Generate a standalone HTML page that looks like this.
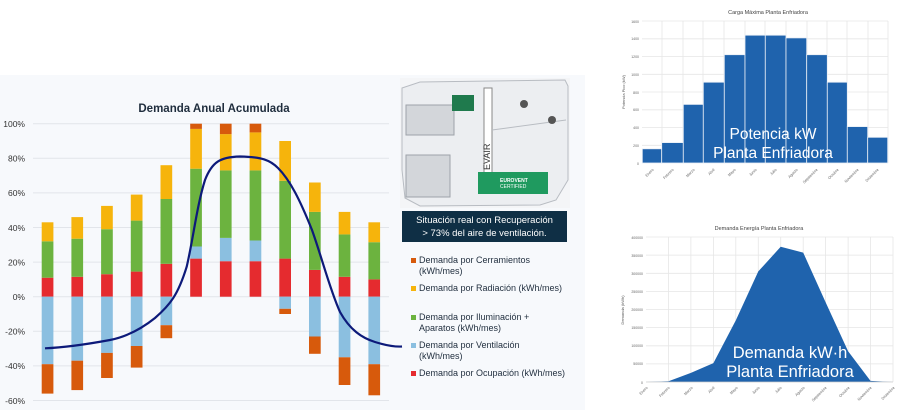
<!DOCTYPE html>
<html><head><meta charset="utf-8"><style>
html,body{margin:0;padding:0;width:900px;height:410px;overflow:hidden;background:#fff;font-family:"Liberation Sans",sans-serif}
</style></head><body>
<svg width="900" height="410" viewBox="0 0 900 410" xmlns="http://www.w3.org/2000/svg" font-family="Liberation Sans, sans-serif">
<rect x="0" y="0" width="900" height="410" fill="#fff"/>
<rect x="0" y="75" width="585" height="335" fill="#f7f9fc"/>
<!-- left chart -->
<text x="214" y="112" font-size="11.5" font-weight="bold" fill="#1f2d3d" text-anchor="middle">Demanda Anual Acumulada</text>
<g stroke="#e2e5ea" stroke-width="1">
<line x1="33" x2="389" y1="123.7" y2="123.7"/><line x1="33" x2="389" y1="158.3" y2="158.3"/><line x1="33" x2="389" y1="192.9" y2="192.9"/><line x1="33" x2="389" y1="227.5" y2="227.5"/><line x1="33" x2="389" y1="262.1" y2="262.1"/><line x1="33" x2="389" y1="296.7" y2="296.7"/><line x1="33" x2="389" y1="331.3" y2="331.3"/><line x1="33" x2="389" y1="365.9" y2="365.9"/><line x1="33" x2="389" y1="400.5" y2="400.5"/>
</g>
<g font-size="8.5" fill="#333" text-anchor="end">
<text x="25" y="127">100%</text><text x="25" y="161.5">80%</text><text x="25" y="196">60%</text><text x="25" y="231">40%</text><text x="25" y="265.5">20%</text><text x="25" y="300">0%</text><text x="25" y="334.5">-20%</text><text x="25" y="369">-40%</text><text x="25" y="404">-60%</text>
</g>
<g>
<rect x="41.7" y="277.7" width="11.7" height="19" fill="#e52b2f"/><rect x="41.7" y="241.3" width="11.7" height="36.4" fill="#6cb33f"/><rect x="41.7" y="222.3" width="11.7" height="19" fill="#f6b40c"/><rect x="41.7" y="296.7" width="11.7" height="67.5" fill="#8bbfe0"/><rect x="41.7" y="364.2" width="11.7" height="29.4" fill="#d75a0c"/>
<rect x="71.4" y="276.8" width="11.7" height="19.9" fill="#e52b2f"/><rect x="71.4" y="238.7" width="11.7" height="38.1" fill="#6cb33f"/><rect x="71.4" y="217.1" width="11.7" height="21.6" fill="#f6b40c"/><rect x="71.4" y="296.7" width="11.7" height="64" fill="#8bbfe0"/><rect x="71.4" y="360.7" width="11.7" height="29.4" fill="#d75a0c"/>
<rect x="101.1" y="274.2" width="11.7" height="22.5" fill="#e52b2f"/><rect x="101.1" y="229.2" width="11.7" height="45" fill="#6cb33f"/><rect x="101.1" y="205.9" width="11.7" height="23.3" fill="#f6b40c"/><rect x="101.1" y="296.7" width="11.7" height="56.2" fill="#8bbfe0"/><rect x="101.1" y="352.9" width="11.7" height="25.1" fill="#d75a0c"/>
<rect x="130.8" y="271.6" width="11.7" height="25.1" fill="#e52b2f"/><rect x="130.8" y="220.6" width="11.7" height="51" fill="#6cb33f"/><rect x="130.8" y="194.6" width="11.7" height="26" fill="#f6b40c"/><rect x="130.8" y="296.7" width="11.7" height="49.3" fill="#8bbfe0"/><rect x="130.8" y="346" width="11.7" height="21.6" fill="#d75a0c"/>
<rect x="160.5" y="263.8" width="11.7" height="32.9" fill="#e52b2f"/><rect x="160.5" y="199" width="11.7" height="64.8" fill="#6cb33f"/><rect x="160.5" y="165.2" width="11.7" height="33.8" fill="#f6b40c"/><rect x="160.5" y="296.7" width="11.7" height="28.5" fill="#8bbfe0"/><rect x="160.5" y="325.2" width="11.7" height="13" fill="#d75a0c"/>
<rect x="190.2" y="258.6" width="11.7" height="38.1" fill="#e52b2f"/><rect x="190.2" y="246.5" width="11.7" height="12.1" fill="#8bbfe0"/><rect x="190.2" y="168.7" width="11.7" height="77.8" fill="#6cb33f"/><rect x="190.2" y="128.9" width="11.7" height="39.8" fill="#f6b40c"/><rect x="190.2" y="123.7" width="11.7" height="5.2" fill="#d75a0c"/>
<rect x="219.9" y="261.2" width="11.7" height="35.5" fill="#e52b2f"/><rect x="219.9" y="237.9" width="11.7" height="23.3" fill="#8bbfe0"/><rect x="219.9" y="170.4" width="11.7" height="67.5" fill="#6cb33f"/><rect x="219.9" y="134.1" width="11.7" height="36.3" fill="#f6b40c"/><rect x="219.9" y="123.7" width="11.7" height="10.4" fill="#d75a0c"/>
<rect x="249.6" y="261.2" width="11.7" height="35.5" fill="#e52b2f"/><rect x="249.6" y="240.5" width="11.7" height="20.7" fill="#8bbfe0"/><rect x="249.6" y="170.4" width="11.7" height="70.1" fill="#6cb33f"/><rect x="249.6" y="132.4" width="11.7" height="38" fill="#f6b40c"/><rect x="249.6" y="123.7" width="11.7" height="8.7" fill="#d75a0c"/>
<rect x="279.3" y="258.6" width="11.7" height="38.1" fill="#e52b2f"/><rect x="279.3" y="180.8" width="11.7" height="77.8" fill="#6cb33f"/><rect x="279.3" y="141" width="11.7" height="39.8" fill="#f6b40c"/><rect x="279.3" y="296.7" width="11.7" height="12.1" fill="#8bbfe0"/><rect x="279.3" y="308.8" width="11.7" height="5.2" fill="#d75a0c"/>
<rect x="309" y="269.9" width="11.7" height="26.8" fill="#e52b2f"/><rect x="309" y="211.9" width="11.7" height="58" fill="#6cb33f"/><rect x="309" y="182.5" width="11.7" height="29.4" fill="#f6b40c"/><rect x="309" y="296.7" width="11.7" height="39.8" fill="#8bbfe0"/><rect x="309" y="336.5" width="11.7" height="17.3" fill="#d75a0c"/>
<rect x="338.7" y="276.8" width="11.7" height="19.9" fill="#e52b2f"/><rect x="338.7" y="234.4" width="11.7" height="42.4" fill="#6cb33f"/><rect x="338.7" y="211.9" width="11.7" height="22.5" fill="#f6b40c"/><rect x="338.7" y="296.7" width="11.7" height="60.6" fill="#8bbfe0"/><rect x="338.7" y="357.3" width="11.7" height="27.7" fill="#d75a0c"/>
<rect x="368.4" y="279.4" width="11.7" height="17.3" fill="#e52b2f"/><rect x="368.4" y="242.2" width="11.7" height="37.2" fill="#6cb33f"/><rect x="368.4" y="222.3" width="11.7" height="19.9" fill="#f6b40c"/><rect x="368.4" y="296.7" width="11.7" height="67.5" fill="#8bbfe0"/><rect x="368.4" y="364.2" width="11.7" height="31.1" fill="#d75a0c"/>
</g>
<path d="M45,348.3 C65,347.5 83,345 110,340 C125,337 140,330 155,318 C170,305 178,295 186.7,266.7 C193,240 197,205 205,180 C212,162 220,157 240,156.5 C262,157 270,160 278,168 C290,180 300,200 312,230 C322,258 330,290 340,312 C350,330 362,338 375,342 C388,346 395,347 402,346.5" fill="none" stroke="#0d1a7a" stroke-width="2.2"/>

<!-- photo -->
<rect x="400" y="78" width="170" height="130" fill="#f4f5f7"/>
<polygon points="402,88 420,82 565,80 568,86 568,180 556,200 540,205 420,206 405,198 402,170" fill="#eceef1" stroke="#b8bcc2"/>
<rect x="406" y="105" width="48" height="30" fill="#d3d6da" stroke="#9ea3a9"/>
<rect x="406" y="155" width="44" height="42" fill="#d3d6da" stroke="#9ea3a9"/>
<rect x="452" y="95" width="22" height="16" fill="#1f7a4d"/>
<rect x="484" y="88" width="8" height="100" fill="#fff" stroke="#888"/>
<text x="490" y="170" font-size="9" fill="#333" transform="rotate(-90 490 170)">EVAIR</text>
<line x1="492" y1="130" x2="566" y2="120" stroke="#b8bcc2"/>
<circle cx="524" cy="104" r="4" fill="#555"/><circle cx="552" cy="120" r="4" fill="#555"/>
<rect x="478" y="172" width="70" height="22" fill="#1f9a5f"/>
<text x="500" y="182" font-size="5" fill="#fff" font-weight="bold">EUROVENT</text>
<text x="500" y="188" font-size="5" fill="#fff">CERTIFIED</text>
<!-- banner -->
<rect x="402" y="211" width="165" height="31" fill="#0f2f45"/>
<text x="484.5" y="223" font-size="9.5" fill="#fff" text-anchor="middle">Situación real con Recuperación</text>
<text x="484.5" y="236" font-size="9.5" fill="#fff" text-anchor="middle">&gt; 73% del aire de ventilación.</text>
<!-- legend -->
<g font-size="9" fill="#1f2d3d">
<rect x="411" y="258" width="5" height="5" fill="#d75a0c"/><text x="419" y="263">Demanda por Cerramientos</text><text x="419" y="274">(kWh/mes)</text>
<rect x="411" y="286" width="5" height="5" fill="#f6b40c"/><text x="419" y="291">Demanda por Radiación (kWh/mes)</text>
<rect x="411" y="315" width="5" height="5" fill="#6cb33f"/><text x="419" y="320">Demanda por Iluminación +</text><text x="419" y="331">Aparatos (kWh/mes)</text>
<rect x="411" y="343" width="5" height="5" fill="#8bbfe0"/><text x="419" y="348">Demanda por Ventilación</text><text x="419" y="359">(kWh/mes)</text>
<rect x="411" y="371" width="5" height="5" fill="#e52b2f"/><text x="419" y="376">Demanda por Ocupación (kWh/mes)</text>
</g>

<!-- top right -->
<rect x="617" y="4" width="283" height="183" fill="#fff"/>
<text x="768" y="14" font-size="5.5" fill="#444" text-anchor="middle">Carga Máxima Planta Enfriadora</text>
<g stroke="#e6e6e6" stroke-width="0.8">
<line x1="642" x2="888" y1="21" y2="21"/><line x1="642" x2="888" y1="38.8" y2="38.8"/><line x1="642" x2="888" y1="56.5" y2="56.5"/><line x1="642" x2="888" y1="74.3" y2="74.3"/><line x1="642" x2="888" y1="92" y2="92"/><line x1="642" x2="888" y1="109.8" y2="109.8"/><line x1="642" x2="888" y1="127.5" y2="127.5"/><line x1="642" x2="888" y1="145.3" y2="145.3"/>
<line x1="662" x2="662" y1="21" y2="163"/><line x1="683" x2="683" y1="21" y2="163"/><line x1="703" x2="703" y1="21" y2="163"/><line x1="724" x2="724" y1="21" y2="163"/><line x1="745" x2="745" y1="21" y2="163"/><line x1="765" x2="765" y1="21" y2="163"/><line x1="786" x2="786" y1="21" y2="163"/><line x1="807" x2="807" y1="21" y2="163"/><line x1="827" x2="827" y1="21" y2="163"/><line x1="847" x2="847" y1="21" y2="163"/><line x1="868" x2="868" y1="21" y2="163"/><line x1="888" x2="888" y1="21" y2="163"/>
</g>
<g fill="#1f63ad" stroke="#e8eef6" stroke-width="0.8">
<rect x="642.3" y="148.8" width="19.4" height="14.2"/><rect x="661.7" y="142.6" width="21.6" height="20.4"/><rect x="683.3" y="104.4" width="20" height="58.6"/><rect x="703.3" y="82.2" width="21" height="80.8"/><rect x="724.3" y="54.7" width="20.7" height="108.3"/><rect x="745" y="35.2" width="20.3" height="127.8"/><rect x="765.3" y="35.2" width="20.7" height="127.8"/><rect x="786" y="37.9" width="20.7" height="125.1"/><rect x="806.7" y="54.7" width="20.6" height="108.3"/><rect x="827.3" y="82.2" width="20" height="80.8"/><rect x="847.3" y="126.6" width="20.4" height="36.4"/><rect x="867.7" y="137.3" width="20" height="25.7"/>
</g>
<g font-size="3.5" fill="#666" text-anchor="end">
<text x="639" y="23">1600</text><text x="639" y="40">1400</text><text x="639" y="58">1200</text><text x="639" y="76">1000</text><text x="639" y="94">800</text><text x="639" y="111">600</text><text x="639" y="129">400</text><text x="639" y="147">200</text><text x="639" y="165">0</text>
</g>
<text x="625" y="92" font-size="4" fill="#555" transform="rotate(-90 625 92)" text-anchor="middle">Potencia Pico (kW)</text>
<g font-size="3.8" fill="#666" text-anchor="end">
<text transform="translate(654,170) rotate(-45)">Enero</text><text transform="translate(674,170) rotate(-45)">Febrero</text><text transform="translate(695,170) rotate(-45)">Marzo</text><text transform="translate(715,170) rotate(-45)">Abril</text><text transform="translate(736,170) rotate(-45)">Mayo</text><text transform="translate(757,170) rotate(-45)">Junio</text><text transform="translate(777,170) rotate(-45)">Julio</text><text transform="translate(798,170) rotate(-45)">Agosto</text><text transform="translate(818,170) rotate(-45)">Septiembre</text><text transform="translate(839,170) rotate(-45)">Octubre</text><text transform="translate(859,170) rotate(-45)">Noviembre</text><text transform="translate(879,170) rotate(-45)">Diciembre</text>
</g>
<text x="773" y="139" font-size="15.5" fill="#fff" text-anchor="middle">Potencia kW</text>
<text x="773" y="158" font-size="15.5" fill="#fff" text-anchor="middle">Planta Enfriadora</text>

<!-- bottom right -->
<rect x="617" y="217" width="283" height="190" fill="#fff"/>
<text x="759" y="230" font-size="5.5" fill="#444" text-anchor="middle">Demanda Energía Planta Enfriadora</text>
<g stroke="#e6e6e6" stroke-width="0.8">
<line x1="646" x2="893" y1="237" y2="237"/><line x1="646" x2="893" y1="255.1" y2="255.1"/><line x1="646" x2="893" y1="273.3" y2="273.3"/><line x1="646" x2="893" y1="291.4" y2="291.4"/><line x1="646" x2="893" y1="309.5" y2="309.5"/><line x1="646" x2="893" y1="327.6" y2="327.6"/><line x1="646" x2="893" y1="345.8" y2="345.8"/><line x1="646" x2="893" y1="363.9" y2="363.9"/>
<line x1="668.5" x2="668.5" y1="237" y2="382"/><line x1="690.9" x2="690.9" y1="237" y2="382"/><line x1="713.4" x2="713.4" y1="237" y2="382"/><line x1="735.8" x2="735.8" y1="237" y2="382"/><line x1="758.3" x2="758.3" y1="237" y2="382"/><line x1="780.7" x2="780.7" y1="237" y2="382"/><line x1="803.2" x2="803.2" y1="237" y2="382"/><line x1="825.6" x2="825.6" y1="237" y2="382"/><line x1="848.1" x2="848.1" y1="237" y2="382"/><line x1="870.5" x2="870.5" y1="237" y2="382"/><line x1="893" x2="893" y1="237" y2="382"/>
</g>
<polygon points="646,382 668.5,381.3 690.9,372.9 713.4,363.1 735.8,320.4 758.3,271.4 780.7,246.8 803.2,252.6 825.6,302.2 848.1,351.2 870.5,380.9 893,382" fill="#1f63ad"/>
<line x1="646" x2="893" y1="382" y2="382" stroke="#ccc" stroke-width="0.8"/>
<g font-size="3.5" fill="#666" text-anchor="end">
<text x="643" y="239">400000</text><text x="643" y="257">350000</text><text x="643" y="275">300000</text><text x="643" y="293">250000</text><text x="643" y="311">200000</text><text x="643" y="329">150000</text><text x="643" y="347">100000</text><text x="643" y="365">50000</text><text x="643" y="384">0</text>
</g>
<text x="624" y="310" font-size="4" fill="#555" transform="rotate(-90 624 310)" text-anchor="middle">Demanda (kWh)</text>
<g font-size="3.8" fill="#666" text-anchor="end">
<text transform="translate(648,388) rotate(-45)">Enero</text><text transform="translate(670,388) rotate(-45)">Febrero</text><text transform="translate(693,388) rotate(-45)">Marzo</text><text transform="translate(715,388) rotate(-45)">Abril</text><text transform="translate(738,388) rotate(-45)">Mayo</text><text transform="translate(760,388) rotate(-45)">Junio</text><text transform="translate(782,388) rotate(-45)">Julio</text><text transform="translate(805,388) rotate(-45)">Agosto</text><text transform="translate(827,388) rotate(-45)">Septiembre</text><text transform="translate(850,388) rotate(-45)">Octubre</text><text transform="translate(872,388) rotate(-45)">Noviembre</text><text transform="translate(895,388) rotate(-45)">Diciembre</text>
</g>
<text x="790" y="358" font-size="16.5" fill="#fff" text-anchor="middle">Demanda kW·h</text>
<text x="790" y="377" font-size="16.5" fill="#fff" text-anchor="middle">Planta Enfriadora</text>
</svg>
</body></html>
